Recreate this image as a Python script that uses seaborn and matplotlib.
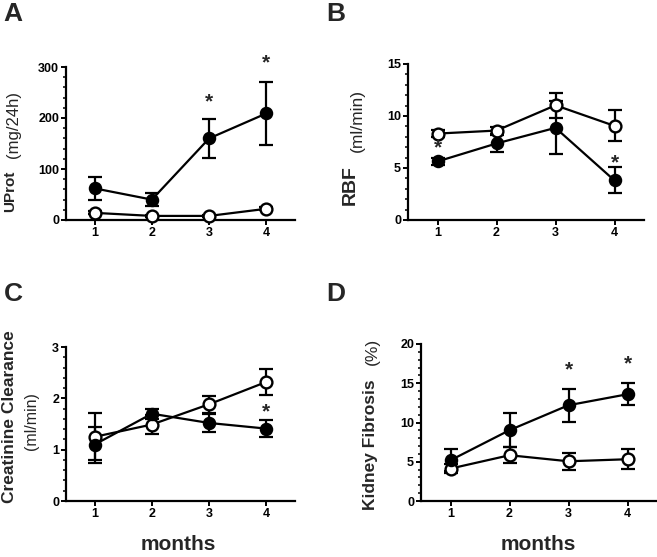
import numpy as np
import pandas as pd
import matplotlib
matplotlib.use("Agg")
import matplotlib.pyplot as plt
from matplotlib.ticker import MultipleLocator
import seaborn as sns

# ---------------- data ----------------
months = [1, 2, 3, 4]

uprot_filled = [62, 40, 160, 209]
uprot_filled_err = [23, 12, 39, 61]
uprot_open = [14, 8, 8, 22]
uprot_open_err = [3, 2, 2, 3]

rbf_filled = [5.63, 7.36, 8.86, 3.8]
rbf_filled_err = [0.3, 0.8, 2.55, 1.25]
rbf_open = [8.31, 8.6, 11.03, 9.05]
rbf_open_err = [0.3, 0.3, 1.2, 1.5]

ccl_filled = [1.10, 1.70, 1.52, 1.41]
ccl_filled_err = [0.35, 0.1, 0.18, 0.16]
ccl_open = [1.25, 1.49, 1.885, 2.32]
ccl_open_err = [0.46, 0.18, 0.17, 0.25]

fib_filled = [5.19, 9.02, 12.2, 13.6]
fib_filled_err = [1.4, 2.2, 2.1, 1.4]
fib_open = [4.13, 5.83, 5.06, 5.32]
fib_open_err = [0.6, 1.0, 1.05, 1.3]

# significance stars (month, y position in data units)
stars_A = [(3, 232), (4, 308)]
stars_B = [(1, 6.9), (4, 5.5)]
stars_C = [(4, 1.73)]
stars_D = [(3, 16.7), (4, 17.5)]

# ---------------- style ----------------
sns.set_style("ticks")
plt.rcParams['font.family'] = ['Liberation Sans', 'DejaVu Sans']

W, H = 657, 557
fig = plt.figure(figsize=(W / 100, H / 100), dpi=100)


def px_axes(x0, x1, ytop, ybot):
    return fig.add_axes([x0 / W, 1 - ybot / H, (x1 - x0) / W, (ybot - ytop) / H])


def panel(ax, filled, ferr, opn, oerr, ymax, major, minor, stars):
    df_f = pd.DataFrame({"month": months, "value": filled})
    df_o = pd.DataFrame({"month": months, "value": opn})
    ax.errorbar(months, opn, yerr=oerr, fmt='none', ecolor='black',
                elinewidth=1.6, capsize=4.8, capthick=1.6, zorder=2, clip_on=False)
    ax.errorbar(months, filled, yerr=ferr, fmt='none', ecolor='black',
                elinewidth=1.6, capsize=4.8, capthick=1.6, zorder=2, clip_on=False)
    sns.lineplot(data=df_o, x="month", y="value", ax=ax, color="black",
                 linewidth=1.6, marker="o", markersize=8.5, markerfacecolor="white",
                 markeredgecolor="black", markeredgewidth=1.7, zorder=3, clip_on=False)
    sns.lineplot(data=df_f, x="month", y="value", ax=ax, color="black",
                 linewidth=1.6, marker="o", markersize=8.5, markerfacecolor="black",
                 markeredgecolor="black", markeredgewidth=1.2, zorder=4, clip_on=False)
    ax.set_xlim(0.5, 4.5)
    ax.set_ylim(0, ymax)
    ax.set_xticks(months)
    ax.yaxis.set_major_locator(MultipleLocator(major))
    ax.yaxis.set_minor_locator(MultipleLocator(minor))
    ax.set_xlabel("")
    ax.set_ylabel("")
    for s in ("top", "right"):
        ax.spines[s].set_visible(False)
    for s in ("left", "bottom"):
        ax.spines[s].set_linewidth(1.6)
        ax.spines[s].set_color("black")
    ax.tick_params(axis='both', which='major', direction='out', length=3.5,
                   width=1.4, pad=1.5, labelsize=9, colors='black')
    ax.tick_params(axis='y', which='minor', direction='out', length=2.2, width=1.3)
    for lab in ax.get_xticklabels() + ax.get_yticklabels():
        lab.set_fontweight('bold')
    for (mx, my) in stars:
        ax.text(mx, my, "*", ha='center', va='center', fontsize=15,
                fontweight='bold', clip_on=False)


# axes placement (pixel coordinates)
axA = px_axes(66, 295, 67, 220)
axB = px_axes(408, 644, 64, 220)
axC = px_axes(66, 295, 347, 501)
axD = px_axes(421, 657, 344, 501)

panel(axA, uprot_filled, uprot_filled_err, uprot_open, uprot_open_err, 300, 100, 20, stars_A)
panel(axB, rbf_filled, rbf_filled_err, rbf_open, rbf_open_err, 15, 5, 1, stars_B)
panel(axC, ccl_filled, ccl_filled_err, ccl_open, ccl_open_err, 3, 1, 0.2, stars_C)
panel(axD, fib_filled, fib_filled_err, fib_open, fib_open_err, 20, 5, 1, stars_D)


def ftext(xp, yp, s, **kw):
    fig.text(xp / W, 1 - yp / H, s, **kw)


# panel letters
for (xp, yp, s) in [(13, 14, "A"), (336, 14, "B"), (13, 294, "C"), (336, 294, "D")]:
    ftext(xp, yp, s, fontsize=19, fontweight='bold', ha='center', va='center')

# y labels (rotated)
rot = dict(rotation=90, ha='center', va='center')
ftext(10, 191, "UProt", fontsize=11, fontweight='bold', **rot)
ftext(13, 124, "(mg/24h)", fontsize=12, **rot)
ftext(350, 185, "RBF", fontsize=14, fontweight='bold', **rot)
ftext(357, 120, "(ml/min)", fontsize=12.5, **rot)
ftext(10, 417, "Creatinine Clearance", fontsize=12.5, fontweight='bold', **rot)
ftext(32, 421, "(ml/min)", fontsize=11.5, **rot)
ftext(370, 445, "Kidney Fibrosis", fontsize=12.5, fontweight='bold', **rot)
ftext(372, 351, "(%)", fontsize=12.5, **rot)

# x labels
ftext(178, 545, "months", fontsize=15, fontweight='bold', ha='center', va='center')
ftext(538, 545, "months", fontsize=15, fontweight='bold', ha='center', va='center')

fig.savefig("out.png", dpi=100)
